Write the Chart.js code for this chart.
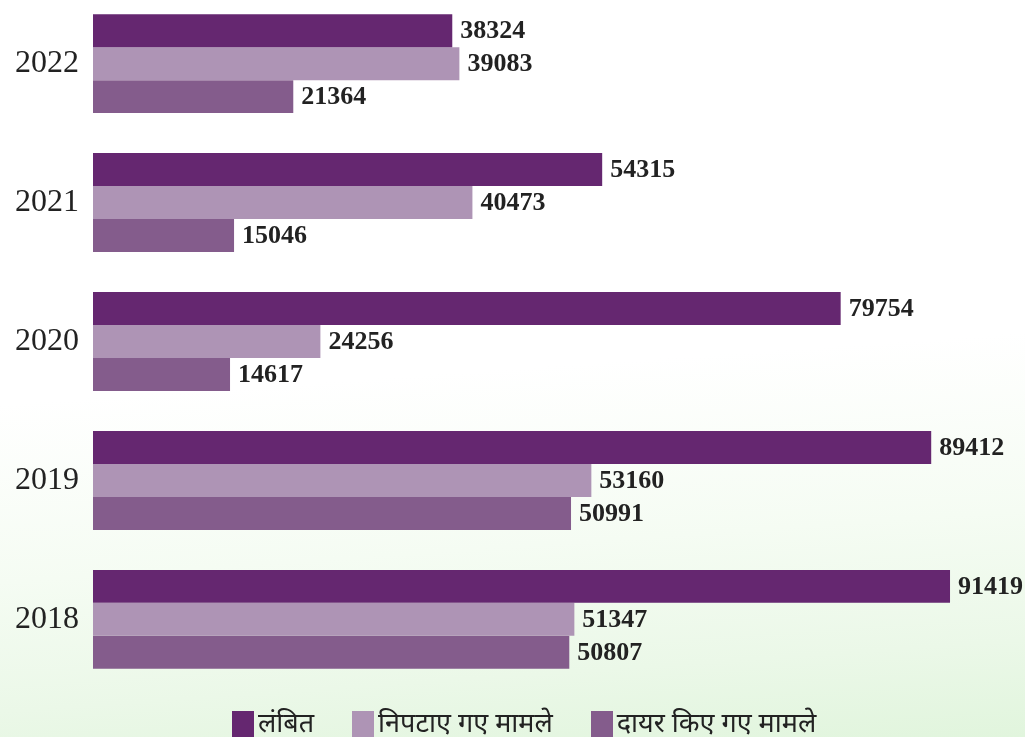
<!DOCTYPE html>
<html>
<head>
<meta charset="utf-8">
<script src="https://cdn.jsdelivr.net/npm/chart.js@4/dist/chart.umd.min.js"></script>
<style>
  html, body { margin: 0; padding: 0; }
  body {
    width: 1025px; height: 737px; overflow: hidden; position: relative;
    background: linear-gradient(176deg, #ffffff 0%, #ffffff 50%, #f5fcf3 72%, #ebf8e8 88%, #e1f5dd 100%);
  }
  #wrap { position: absolute; left: 0; top: -39px; width: 1025px; height: 761px; }
  #legend {
    position: absolute; left: 232px; top: 707px;
    display: flex; gap: 38px; white-space: nowrap;
    font-family: "Noto Sans", sans-serif; font-size: 27px; color: #222; line-height: 30px;
  }
  #legend .item { display: flex; align-items: flex-start; }
  #legend .box { width: 22px; height: 34px; margin-top: 4px; margin-right: 4px; }
</style>
</head>
<body>
<div id="wrap"><canvas id="cases"></canvas></div>
<div id="legend"></div>
<script>
/* ---------------------------
    DATA
------------------------------ */
const years = ["2022", "2021", "2020", "2019", "2018"];
const pending = [38324, 54315, 79754, 89412, 91419];
const disposed = [39083, 40473, 24256, 53160, 51347];
const filed = [21364, 15046, 14617, 50991, 50807];

const seriesNames = ["लंबित", "निपटाए गए मामले", "दायर किए गए मामले"];
const seriesColors = ["#652770", "#ae94b5", "#845c8c"];

/* ---------------------------
    VALUE LABELS AT BAR ENDS
------------------------------ */
const barValues = {
    id: "barValues",
    afterDatasetsDraw(chart) {
        const ctx = chart.ctx;
        ctx.save();
        ctx.font = "bold 26px 'Liberation Serif', 'Times New Roman', serif";
        ctx.fillStyle = "#222";
        ctx.textBaseline = "middle";
        ctx.textAlign = "left";
        chart.data.datasets.forEach((ds, i) => {
            chart.getDatasetMeta(i).data.forEach((bar, j) => {
                ctx.fillText(ds.data[j], bar.x + 8, bar.y + 1);
            });
        });
        ctx.restore();
    }
};

/* ---------------------------
    HTML LEGEND UNDER THE BARS
------------------------------ */
const htmlLegend = {
    id: "htmlLegend",
    afterUpdate(chart) {
        const box = document.getElementById("legend");
        box.innerHTML = "";
        const items = chart.options.plugins.legend.labels.generateLabels(chart);
        items.forEach(item => {
            const el = document.createElement("div");
            el.className = "item";
            const sw = document.createElement("span");
            sw.className = "box";
            sw.style.background = item.fillStyle;
            const txt = document.createElement("span");
            txt.textContent = item.text;
            el.appendChild(sw);
            el.appendChild(txt);
            box.appendChild(el);
        });
    }
};

new Chart(document.getElementById("cases"), {
    type: "bar",
    data: {
        labels: years,
        datasets: [
            { label: seriesNames[0], data: pending, backgroundColor: seriesColors[0] },
            { label: seriesNames[1], data: disposed, backgroundColor: seriesColors[1] },
            { label: seriesNames[2], data: filed, backgroundColor: seriesColors[2] }
        ]
    },
    options: {
        indexAxis: "y",
        responsive: true,
        maintainAspectRatio: false,
        animation: false,
        layout: { padding: { left: 0, right: 10, top: 0, bottom: 0 } },
        datasets: {
            bar: { categoryPercentage: 0.712, barPercentage: 1.0, borderWidth: 0 }
        },
        scales: {
            x: {
                display: false,
                min: 0,
                max: 98350
            },
            y: {
                grid: { display: false, drawTicks: false },
                border: { display: false },
                afterFit: s => { s.width = 93; },
                ticks: {
                    color: "#222",
                    padding: 14,
                    font: { family: "'Liberation Serif', 'Times New Roman', serif", size: 32 }
                }
            }
        },
        plugins: {
            tooltip: { enabled: false },
            legend: { display: false }
        }
    },
    plugins: [barValues, htmlLegend]
});
</script>
</body>
</html>
